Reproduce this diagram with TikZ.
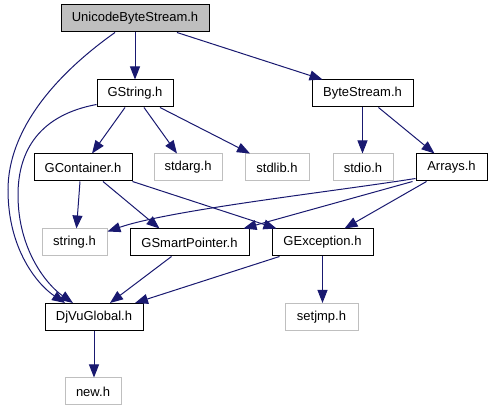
\documentclass[tikz,border=0pt]{standalone}
\usepackage{fontspec}
\setmainfont{Liberation Sans}
\usetikzlibrary{arrows.meta}
\definecolor{edgeblue}{HTML}{191970}
\definecolor{sysgray}{HTML}{BFBFBF}

\begin{document}
\begin{tikzpicture}[x=1pt, y=-1pt,
    hdr/.style={draw=black, line width=1pt, minimum height=27pt, inner sep=0pt, font=\fontsize{13}{15}\selectfont},
    syshdr/.style={hdr, draw=sysgray},
    dep/.style={draw=edgeblue, line width=1pt, -{Triangle[length=13pt,width=10pt]}}]
      \useasboundingbox (0,0) rectangle (491,411);
      % headers
      \node[hdr, fill=sysgray, minimum width=148pt] (ubs) at (135,18.5) {UnicodeByteStream.h};
      \node[hdr, minimum width=76pt] (gstring) at (135,93.5) {GString.h};
      \node[hdr, minimum width=101pt] (bytestream) at (362.5,93.5) {ByteStream.h};
      \node[hdr, minimum width=98pt] (gcontainer) at (83,167.5) {GContainer.h};
      \node[syshdr, minimum width=68pt] (stdarg) at (188,167.5) {stdarg.h};
      \node[syshdr, minimum width=64pt] (stdlib) at (277,167.5) {stdlib.h};
      \node[syshdr, minimum width=60pt] (stdio) at (363,167.5) {stdio.h};
      \node[hdr, minimum width=71pt] (arrays) at (451.5,167.5) {Arrays.h};
      \node[syshdr, minimum width=65pt] (string) at (74.5,242.5) {string.h};
      \node[hdr, minimum width=119pt] (gsmart) at (189.5,242.5) {GSmartPointer.h};
      \node[hdr, minimum width=101pt] (gexception) at (322.5,242.5) {GException.h};
      \node[hdr, minimum width=98pt] (djvuglobal) at (94,317) {DjVuGlobal.h};
      \node[syshdr, minimum width=73pt] (setjmp) at (321.5,317) {setjmp.h};
      \node[syshdr, minimum width=56pt] (newh) at (93,391.5) {new.h};
      % includes
      \draw[dep] (ubs) -- (gstring);
      \draw[dep] ([xshift=42pt]ubs.south) -- ([xshift=-40pt]bytestream.north);
      \draw[dep] ([xshift=-20pt]ubs.south) .. controls (55,75) and (8,130) .. (8,190)
        .. controls (8,250) and (38,285) .. ([xshift=-29pt]djvuglobal.north);
      \draw[dep] ([yshift=3pt]gstring.south west) .. controls (40,115) and (18,150) .. (18,195)
        .. controls (18,250) and (47,285) .. ([xshift=-21pt]djvuglobal.north);
      \draw[dep] ([xshift=-10pt]gstring.south) -- ([xshift=9pt]gcontainer.north);
      \draw[dep] ([xshift=9pt]gstring.south) -- ([xshift=-11pt]stdarg.north);
      \draw[dep] ([xshift=25pt]gstring.south) -- ([xshift=-27pt]stdlib.north);
      \draw[dep] (bytestream.south) -- (bytestream.south |- stdio.north);
      \draw[dep] ([xshift=16pt]bytestream.south) -- ([xshift=-17pt]arrays.north);
      \draw[dep] ([xshift=-3pt]gcontainer.south) -- ([xshift=2pt]string.north);
      \draw[dep] ([xshift=20pt]gcontainer.south) -- ([xshift=-30pt]gsmart.north);
      \draw[dep] (gcontainer.south east) -- ([xshift=-46pt]gexception.north);
      \draw[dep] ([yshift=3pt]arrays.south west) .. controls (330,192) and (170,210) .. ([yshift=-3pt]string.north east);
      \draw[dep] ([xshift=-3pt]arrays.south west) -- ([xshift=-6pt]gsmart.north east);
      \draw[dep] ([xshift=-25pt]arrays.south) -- ([xshift=22pt]gexception.north);
      \draw[dep] ([xshift=-18pt]gsmart.south) -- ([xshift=16pt]djvuglobal.north);
      \draw[dep] ([xshift=8pt]gexception.south west) -- ([xshift=41pt]djvuglobal.north);
      \draw[dep] (gexception.south) -- (gexception.south |- setjmp.north);
      \draw[dep] (djvuglobal.south) -- (djvuglobal.south |- newh.north);
    \end{tikzpicture}
\end{document}
